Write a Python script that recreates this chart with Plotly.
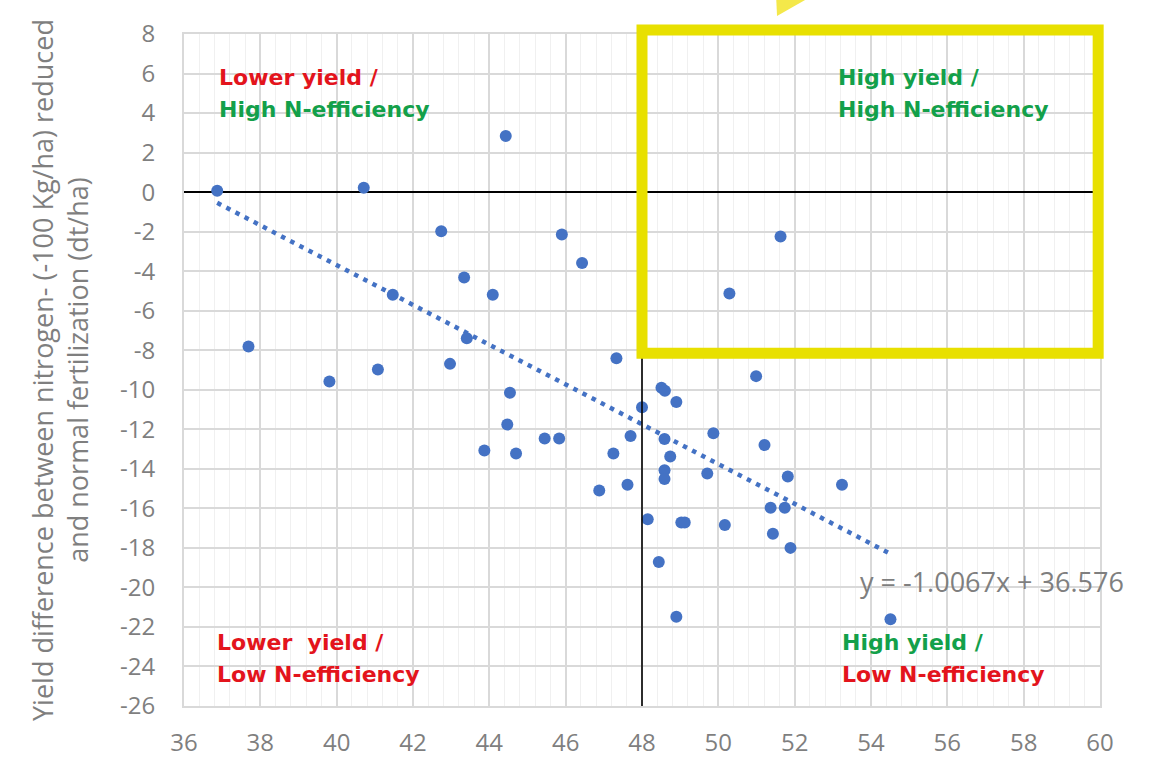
import plotly.graph_objects as go

# ---- data ----
yield_normal = [
    36.87, 40.71, 42.74, 45.90, 46.43, 43.34, 44.09, 41.47, 43.41, 37.69,
    47.33, 42.97, 41.08, 39.81, 44.54, 48.00, 44.47, 47.70, 45.45, 45.83,
    43.87, 44.70, 47.25, 47.62, 46.88, 44.43,
    50.99, 48.51, 48.60, 48.90, 48.59, 49.87, 51.21, 48.74, 48.59, 48.59,
    49.71, 51.82, 53.24, 51.37, 51.74, 48.15, 49.03, 49.12, 50.17, 51.43,
    51.89, 48.44, 48.90, 54.51, 51.63, 50.29,
]
yield_diff = [
    0.07, 0.22, -1.98, -2.14, -3.59, -4.32, -5.19, -5.19, -7.39, -7.81,
    -8.41, -8.69, -8.98, -9.58, -10.15, -10.88, -11.76, -12.34, -12.47, -12.47,
    -13.07, -13.22, -13.22, -14.81, -15.10, 2.84,
    -9.31, -9.90, -10.05, -10.62, -12.49, -12.20, -12.79, -13.38, -14.07, -14.52,
    -14.24, -14.39, -14.81, -15.97, -15.97, -16.55, -16.71, -16.71, -16.84, -17.28,
    -18.00, -18.72, -21.48, -21.61, -2.24, -5.13,
]
trend_slope = -1.0067
trend_intercept = 36.576
x_threshold = 48
x_ticks = list(range(36, 61, 2))
y_ticks = list(range(-26, 9, 2))

RED = "#E3141C"
GREEN = "#13A04A"
BLUE = "#4472C4"
GRAY = "#7f7f7f"

x_min, x_max = min(yield_normal), max(yield_normal)
trend_x = [x_min, x_max]
trend_y = [trend_slope * v + trend_intercept for v in trend_x]

fig = go.Figure()
fig.add_trace(go.Scatter(
    x=trend_x, y=trend_y, mode="lines",
    line=dict(color=BLUE, width=4.5, dash="4.5px,5.8px"),
    showlegend=False,
))
fig.add_trace(go.Scatter(
    x=yield_normal, y=yield_diff, mode="markers",
    marker=dict(color=BLUE, size=12, line=dict(width=0)),
    showlegend=False, cliponaxis=False,
))

# vertical divider at x = 48
fig.add_shape(type="line", xref="x", yref="y", x0=x_threshold, x1=x_threshold,
              y0=-26, y1=8, line=dict(color="black", width=1.6), layer="above")

# yellow highlight box (paper coords; extends slightly past plot top)
fig.add_shape(type="rect", xref="paper", yref="paper",
              x0=0.5, x1=0.998, y0=0.525, y1=1.006,
              line=dict(color="#E8E000", width=11), fillcolor="rgba(0,0,0,0)",
              layer="above")
# arrow tip at top
fig.add_shape(type="path", xref="paper", yref="paper",
              path="M 0.6463 1.06 L 0.6474 1.0268 L 0.678 1.0506 L 0.679 1.06 Z",
              line=dict(width=0), fillcolor="#F4E84A", layer="above")

font_lbl = "DejaVu Sans, Arial, sans-serif"

def lbl(x, y, text, color):
    fig.add_annotation(x=x, y=y, xref="x", yref="y", text="<b>" + text + "</b>",
                       showarrow=False, xanchor="left", yanchor="middle",
                       font=dict(family=font_lbl, size=22, color=color))

lbl(36.86, 5.8, "Lower yield /", RED)
lbl(36.86, 4.2, "High N-efficiency", GREEN)
lbl(53.08, 5.8, "High yield /", GREEN)
lbl(53.08, 4.2, "High N-efficiency", GREEN)
lbl(36.81, -22.8, "Lower&nbsp; yield /", RED)
lbl(36.81, -24.4, "Low N-efficiency", RED)
lbl(53.19, -22.8, "High yield /", GREEN)
lbl(53.19, -24.4, "Low N-efficiency", RED)

fig.add_annotation(x=53.66, y=-19.7, xref="x", yref="y",
                   text="y = -1.0067x + 36.576", showarrow=False,
                   xanchor="left", yanchor="middle",
                   font=dict(family="Open Sans, sans-serif", size=27, color=GRAY))

# y axis title (two lines)
fig.add_annotation(x=-0.1354, y=0.5, xref="paper", yref="paper", textangle=-90,
                   text="Yield difference between nitrogen- (-100 Kg/ha) reduced<br>and normal fertilization (dt/ha)",
                   showarrow=False, xanchor="center", yanchor="middle",
                   font=dict(family="Open Sans, sans-serif", size=27, color=GRAY))

fig.update_layout(
    width=1151, height=761,
    margin=dict(l=184, r=51, t=34, b=55, autoexpand=False),
    paper_bgcolor="white", plot_bgcolor="white",
    font=dict(family="Open Sans, sans-serif", color=GRAY),
)
fig.update_xaxes(
    range=[36, 60], tickvals=x_ticks, ticktext=[str(v) for v in x_ticks],
    showgrid=True, gridcolor="#d9d9d9", gridwidth=1.5,
    minor=dict(dtick=0.4, showgrid=True, gridcolor="#f0f0f0", gridwidth=1),
    showline=True, linecolor="#d9d9d9", linewidth=2, mirror=True,
    zeroline=False, ticks="", ticklabelstandoff=14, automargin=False,
    tickfont=dict(size=24, color=GRAY, family="Open Sans, sans-serif"),
)
fig.update_yaxes(
    range=[-26, 8], tickvals=y_ticks, ticktext=[str(v) for v in y_ticks],
    showgrid=True, gridcolor="#d9d9d9", gridwidth=1.5,
    showline=True, linecolor="#d9d9d9", linewidth=2, mirror=True,
    zeroline=True, zerolinecolor="black", zerolinewidth=1.8,
    ticks="", ticklabelstandoff=22, automargin=False,
    tickfont=dict(size=24, color=GRAY, family="Open Sans, sans-serif"),
)

fig.write_html("out.html")
